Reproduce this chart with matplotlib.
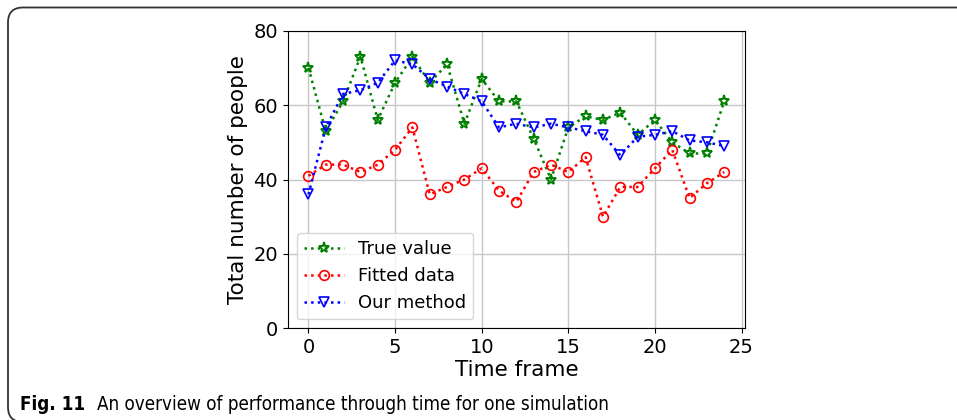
import matplotlib
matplotlib.use("Agg")
import matplotlib.pyplot as plt
from matplotlib.patches import FancyBboxPatch

time_frame = list(range(25))
true_value = [70, 53, 61, 73, 56, 66, 73, 66, 71, 55, 67, 61, 61, 51, 40, 54, 57, 56, 58, 52, 56, 50, 47, 47, 61]
fitted_data = [41, 44, 44, 42, 44, 48, 54, 36, 38, 40, 43, 37, 34, 42, 44, 42, 46, 30, 38, 38, 43, 48, 35, 39, 42]
our_method = [36, 54, 63, 64, 66, 72, 71, 67, 65, 63, 61, 54, 55, 54, 55, 54, 53, 52, 46.5, 51.5, 52, 53, 50.5, 50, 49]

series_labels = ["True value", "Fitted data", "Our method"]
x_ticks = [0, 5, 10, 15, 20, 25]
y_ticks = [0, 20, 40, 60, 80]

fig = plt.figure(figsize=(9.57, 4.2), dpi=100)
ax = fig.add_axes([0.3006, 0.2183, 0.4779, 0.7086])

ax.plot(time_frame, true_value, ls=':', lw=1.8, color='green', marker='*', ms=8,
        mfc='none', mew=1.4, label=series_labels[0])
ax.plot(time_frame, fitted_data, ls=':', lw=1.8, color='red', marker='o', ms=7,
        mfc='none', mew=1.2, label=series_labels[1])
ax.plot(time_frame, our_method, ls=':', lw=1.8, color='blue', marker='v', ms=7.5,
        mfc='none', mew=1.2, label=series_labels[2])

ax.set_ylim(0, 80)
ax.set_xticks(x_ticks)
ax.set_yticks(y_ticks)
ax.tick_params(labelsize=14)
ax.grid(True, color='#c8c8c8', lw=1)
ax.set_axisbelow(True)
ax.set_xlabel("Time frame", fontsize=15.5, labelpad=2)
ax.set_ylabel("Total number of people", fontsize=15.5)
ax.legend(loc='lower left', fontsize=13, handlelength=2.2, borderaxespad=0.5)

box = FancyBboxPatch((0.08, -0.02), 10.5, 4.145, boxstyle="round,pad=0,rounding_size=0.15",
                     transform=fig.dpi_scale_trans, fill=False, edgecolor='#333333', lw=1.3,
                     clip_on=False)
fig.patches.append(box)

fig.text(20/957, 1 - 410/420, "Fig. 11", fontsize=13.5, fontweight='bold', family='DejaVu Sans',
         fontstretch='condensed', va='baseline', ha='left')
fig.text(97/957, 1 - 410/420, "An overview of performance through time for one simulation",
         fontsize=13.5, family='DejaVu Sans', fontstretch='condensed', va='baseline', ha='left')

fig.savefig("out.png", dpi=100)
